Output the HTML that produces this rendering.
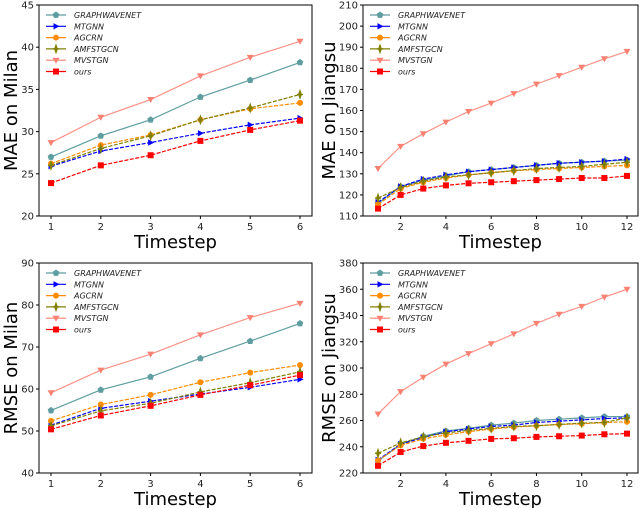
<!DOCTYPE html>
<html><head><meta charset="utf-8"><style>
body{margin:0;background:#fff;}
svg{display:block;font-family:"DejaVu Sans","Liberation Sans",sans-serif;}
</style></head><body>
<svg id="c" width="640" height="508" viewBox="0 0 640 508"></svg>
<script>
const seriesNames = ["GRAPHWAVENET","MTGNN","AGCRN","AMFSTGCN","MVSTGN","ours"];
const colors = ["#5f9ea0","#0000ff","#ff8c00","#808000","#fa8072","#ff0000"];
const x6 = [1,2,3,4,5,6];
const x12 = [1,2,3,4,5,6,7,8,9,10,11,12];
const maeMilanGW = [27.0,29.5,31.4,34.1,36.1,38.2];
const maeMilanMTGNN = [25.9,27.7,28.7,29.8,30.8,31.6];
const maeMilanAGCRN = [26.2,28.4,29.6,31.4,32.7,33.4];
const maeMilanAMF = [26.0,28.0,29.5,31.4,32.8,34.4];
const maeMilanMVSTGN = [28.7,31.7,33.8,36.6,38.8,40.7];
const maeMilanOurs = [23.9,26.0,27.2,28.9,30.2,31.3];
const maeJsGW = [116,124,127,129,131,132,133,134,135,135.5,136,136.5];
const maeJsMTGNN = [116.5,124,127.5,129.5,131,132,133,134,135,135.5,136,137];
const maeJsAGCRN = [115.5,123,126,128,129.5,130.5,131.5,132,132.5,133,133.5,134];
const maeJsAMF = [118.5,123.5,126.5,128.5,129.5,130.5,131.5,132.5,133,133.5,134.5,135.5];
const maeJsMVSTGN = [132.5,143,149,154.5,159.5,163.5,168,172.5,176.5,180.5,184.5,188];
const maeJsOurs = [113.5,120,123,124.5,125.5,126,126.5,127,127.5,128,128,129];
const rmseMilanGW = [54.9,59.8,62.9,67.3,71.4,75.6];
const rmseMilanMTGNN = [51.4,55.4,57.1,58.8,60.4,62.3];
const rmseMilanAGCRN = [52.4,56.3,58.6,61.6,63.9,65.7];
const rmseMilanAMF = [51.2,54.8,56.6,59.3,61.5,64.1];
const rmseMilanMVSTGN = [59.1,64.5,68.3,72.9,77.0,80.4];
const rmseMilanOurs = [50.4,53.7,56.0,58.6,60.9,63.3];
const rmseJsGW = [229,242,248,252,254,256.5,258,260,261,262,263,263];
const rmseJsMTGNN = [230,242,247,251.5,253.5,255.5,256.5,258.5,259.5,260.5,261.5,262];
const rmseJsAGCRN = [229.5,241,246,249,251.5,253.5,255,256,257,257.5,258.5,259];
const rmseJsAMF = [235,243,247.5,250.5,252.5,254,255.5,256,257,258,258.5,262];
const rmseJsMVSTGN = [265,282,293,303,311,318.5,326,334,341,347,354,360];
const rmseJsOurs = [225.5,236,240.5,243,244.5,246,246.5,247.5,248,248.5,249.5,250];
const yTicks1 = [20,25,30,35,40,45];
const yTicks2 = [110,120,130,140,150,160,170,180,190,200,210];
const yTicks3 = [40,50,60,70,80,90];
const yTicks4 = [220,240,260,280,300,320,340,360,380];
const xTicks6 = [1,2,3,4,5,6];
const xTicks12 = [2,4,6,8,10,12];

const NS="http://www.w3.org/2000/svg";
const svg=document.getElementById('c');
function mk(tag,attrs,parent){const e=document.createElementNS(NS,tag);for(const k in attrs)e.setAttribute(k,attrs[k]);(parent||svg).appendChild(e);return e;}
function marker(g,type,x,y,c){
  let e;
  if(type===0){e=mk('polygon',{points:[0,-3.5,3.3,-1.1,2.1,2.9,-2.1,2.9,-3.3,-1.1].map((v,i)=>i%2?v+y:v+x).join(' '),fill:c},g);}
  else if(type===1){e=mk('polygon',{points:`${x-2.5},${y-3.2} ${x+3.5},${y} ${x-2.5},${y+3.2}`,fill:c},g);}
  else if(type===2){e=mk('circle',{cx:x,cy:y,r:3,fill:c},g);}
  else if(type===3){e=mk('polygon',{points:`${x},${y-4} ${x+1.4},${y} ${x},${y+4} ${x-1.4},${y}`,fill:c,stroke:c,'stroke-width':1},g);mk('line',{x1:x-3,y1:y,x2:x+3,y2:y,stroke:c,'stroke-width':1.4},g);}
  else if(type===4){e=mk('polygon',{points:`${x-3.5},${y-2.5} ${x+3.5},${y-2.5} ${x},${y+3.5}`,fill:c},g);}
  else {e=mk('rect',{x:x-3,y:y-3,width:6,height:6,fill:c},g);}
  return e;
}
function panel(p){
  const g=mk('g',{});
  
  
  const sx=v=>p.px0+(v-p.xmin)*(p.px1-p.px0)/(p.xmax-p.xmin);
  const sy=v=>p.bottom-(v-p.ymin)*(p.bottom-p.top)/(p.ymax-p.ymin);
  // series
  p.series.forEach((d,i)=>{
    const pts=p.xs.map((x,j)=>sx(x)+','+sy(d[j])).join(' ');
    const l=mk('polyline',{points:pts,fill:'none',stroke:colors[i],'stroke-width':1.2,'stroke-dasharray':i===0||i===4?'none':'4,1.5','stroke-opacity':i===4?0.85:1},g);
    
    
    p.xs.forEach((x,j)=>{const m=marker(g,i,sx(x),sy(d[j]),colors[i]);});
  });
  // frame
  const f=mk('rect',{x:p.left,y:p.top,width:p.right-p.left,height:p.bottom-p.top,fill:'none',stroke:'#000','stroke-width':1},g);
  
  
  p.yt.forEach(v=>{const y=sy(v);mk('line',{x1:p.left-3,y1:y,x2:p.left,y2:y,stroke:'#000'},g);
    const t=mk('text',{x:p.left-5,y:y+3.5,'font-size':10,'text-anchor':'end',fill:'#222'},g);t.textContent=v;
    });
  p.xt.forEach(v=>{const x=sx(v);mk('line',{x1:x,y1:p.bottom,x2:x,y2:p.bottom+3,stroke:'#000'},g);
    const t=mk('text',{x:x,y:p.bottom+14,'font-size':10,'text-anchor':'middle',fill:'#222'},g);t.textContent=v;
    });
  const xl=mk('text',{x:(p.left+p.right)/2,y:p.bottom+32,'font-size':18,'text-anchor':'middle'},g);xl.textContent='Timestep';
  
  const cy=(p.top+p.bottom)/2;
  const yl=mk('text',{x:p.ylx,y:cy,'font-size':18,'text-anchor':'middle',transform:`rotate(-90 ${p.ylx} ${cy})`},g);yl.textContent=p.ylabel;
  
  // legend
  const lg=mk('g',{},g);
  
  seriesNames.forEach((n,i)=>{
    const y=p.top+10+i*11.3, x0=p.left+7;
    mk('line',{x1:x0,y1:y,x2:x0+20,y2:y,stroke:colors[i],'stroke-width':1.2},lg);
    marker(lg,i,x0+10,y,colors[i]);
    const t=mk('text',{x:x0+28,y:y+3,'font-size':8,'font-style':'italic',fill:'#222'},lg);t.textContent=n;
    
  });
}
panel({name:'mae-milan-panel',left:39,right:312,top:5,bottom:216,px0:51,px1:300,xmin:1,xmax:6,ymin:20,ymax:45,xs:x6,yt:yTicks1,xt:xTicks6,ylabel:'MAE on Milan',ylx:17,
  series:[maeMilanGW,maeMilanMTGNN,maeMilanAGCRN,maeMilanAMF,maeMilanMVSTGN,maeMilanOurs]});
panel({name:'mae-jiangsu-panel',left:363,right:638,top:5,bottom:216,px0:378,px1:627,xmin:1,xmax:12,ymin:110,ymax:210,xs:x12,yt:yTicks2,xt:xTicks12,ylabel:'MAE on Jiangsu',ylx:335,
  series:[maeJsGW,maeJsMTGNN,maeJsAGCRN,maeJsAMF,maeJsMVSTGN,maeJsOurs]});
panel({name:'rmse-milan-panel',left:39,right:312,top:263,bottom:473,px0:51,px1:300,xmin:1,xmax:6,ymin:40,ymax:90,xs:x6,yt:yTicks3,xt:xTicks6,ylabel:'RMSE on Milan',ylx:17,
  series:[rmseMilanGW,rmseMilanMTGNN,rmseMilanAGCRN,rmseMilanAMF,rmseMilanMVSTGN,rmseMilanOurs]});
panel({name:'rmse-jiangsu-panel',left:363,right:638,top:263,bottom:473,px0:378,px1:627,xmin:1,xmax:12,ymin:220,ymax:380,xs:x12,yt:yTicks4,xt:xTicks12,ylabel:'RMSE on Jiangsu',ylx:335,
  series:[rmseJsGW,rmseJsMTGNN,rmseJsAGCRN,rmseJsAMF,rmseJsMVSTGN,rmseJsOurs]});
</script>
</body></html>
